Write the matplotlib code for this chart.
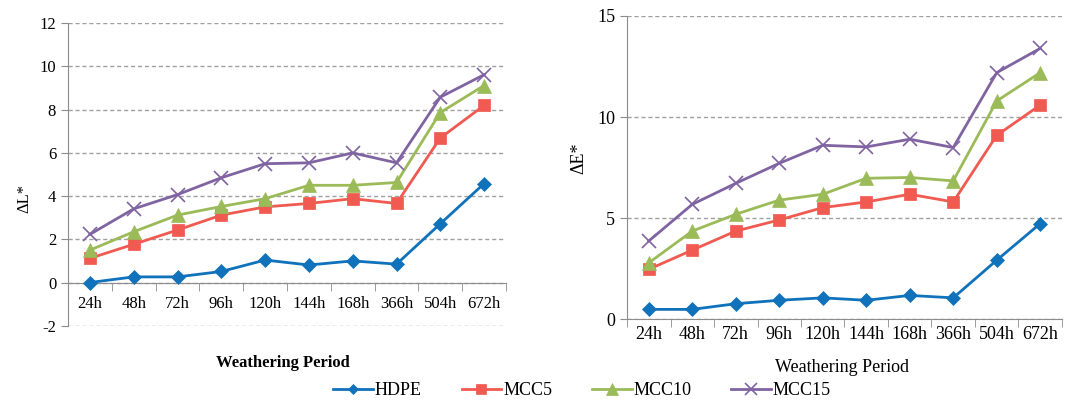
import matplotlib
matplotlib.use('Agg')
import matplotlib.pyplot as plt
from matplotlib.ticker import FixedLocator, NullFormatter

plt.rcParams['font.family'] = ['Liberation Serif', 'DejaVu Serif']
plt.rcParams['axes.unicode_minus'] = False

periods = ['24h', '48h', '72h', '96h', '120h', '144h', '168h', '366h', '504h', '672h']
series_names = ['HDPE', 'MCC5', 'MCC10', 'MCC15']

# ΔL* по периодам выдержки
dl_hdpe = [0.0, 0.26, 0.26, 0.51, 1.04, 0.81, 1.0, 0.85, 2.72, 4.58]
dl_mcc5 = [1.12, 1.77, 2.43, 3.12, 3.5, 3.66, 3.88, 3.66, 6.69, 8.2]
dl_mcc10 = [1.5, 2.35, 3.12, 3.52, 3.88, 4.5, 4.5, 4.63, 7.87, 9.12]
dl_mcc15 = [2.23, 3.41, 4.07, 4.85, 5.5, 5.54, 6.0, 5.54, 8.58, 9.62]

# ΔE* по периодам выдержки
de_hdpe = [0.5, 0.5, 0.78, 0.95, 1.07, 0.95, 1.19, 1.07, 2.93, 4.74]
de_mcc5 = [2.48, 3.43, 4.37, 4.92, 5.53, 5.81, 6.19, 5.81, 9.1, 10.6]
de_mcc10 = [2.8, 4.37, 5.2, 5.9, 6.19, 6.98, 7.02, 6.85, 10.8, 12.2]
de_mcc15 = [3.88, 5.69, 6.73, 7.72, 8.61, 8.53, 8.91, 8.5, 12.2, 13.4]

colors = ['#0F72BA', '#F05A50', '#9BBB59', '#8064A2']
markers = ['D', 's', '^', 'x']
msizes = [7, 9, 10, 10]

fig = plt.figure(figsize=(10.7, 4.03), dpi=100)
ax1 = fig.add_axes([0.0636, 0.1918, 0.4093, 0.7504])
ax2 = fig.add_axes([0.586, 0.2072, 0.4065, 0.7531])


def draw_panel(ax, data, ylim, ystep, ylabel, fs, pad):
    x = list(range(len(periods)))
    for vals, c, m, ms, name in zip(data, colors, markers, msizes, series_names):
        ax.plot(x, vals, color=c, marker=m, markersize=ms, lw=2, label=name,
                markeredgewidth=1.2 if m == 'x' else 0.5, zorder=3)
    ax.set_xlim(-0.5, len(periods) - 0.5)
    ax.set_ylim(*ylim)
    ax.set_yticks(range(ylim[0], ylim[1] + 1, ystep))
    ax.yaxis.grid(True, ls=(0, (3, 2)), color='#a0a0a0', lw=1)
    ax.set_axisbelow(True)
    for s in ['top', 'right']:
        ax.spines[s].set_visible(False)
    ax.spines['left'].set_color('#8c8c8c')
    ax.spines['bottom'].set_color('#8c8c8c')
    ax.spines['bottom'].set_position(('data', 0))
    ax.spines['bottom'].set_zorder(2)
    # подписи периодов по центрам, риски по границам категорий
    ax.set_xticks(x)
    ax.set_xticklabels(periods, fontsize=fs)
    ax.tick_params(axis='x', which='major', length=0, pad=pad)
    ax.xaxis.set_minor_locator(FixedLocator([i - 0.5 for i in range(len(periods) + 1)]))
    ax.xaxis.set_minor_formatter(NullFormatter())
    ax.tick_params(axis='x', which='minor', length=6, color='#8c8c8c')
    ax.tick_params(axis='y', length=5, color='#8c8c8c', labelsize=fs)
    ax.set_ylabel(ylabel, fontsize=fs)


draw_panel(ax1, [dl_hdpe, dl_mcc5, dl_mcc10, dl_mcc15], (-2, 12), 2, 'ΔL*', 12, 10)
draw_panel(ax2, [de_hdpe, de_mcc5, de_mcc10, de_mcc15], (0, 15), 5, 'ΔE*', 13, 5)

ax1.yaxis.set_label_coords(-0.082, 0.42)
ax2.yaxis.set_label_coords(-0.091, 0.53)

fig.text(283 / 1070, 1 - 363 / 403, 'Weathering Period', ha='center', va='center',
         fontsize=12, fontweight='bold')
fig.text(842 / 1070, 1 - 367 / 403, 'Weathering Period', ha='center', va='center',
         fontsize=13)

handles, labels = ax1.get_legend_handles_labels()
fig.legend(handles, labels, loc='center', bbox_to_anchor=(0.544, 0.03), ncol=4,
           frameon=False, fontsize=13, handlelength=2.2, handletextpad=0.1,
           columnspacing=2.2, markerscale=0.8)

fig.savefig('out.png', dpi=100)
